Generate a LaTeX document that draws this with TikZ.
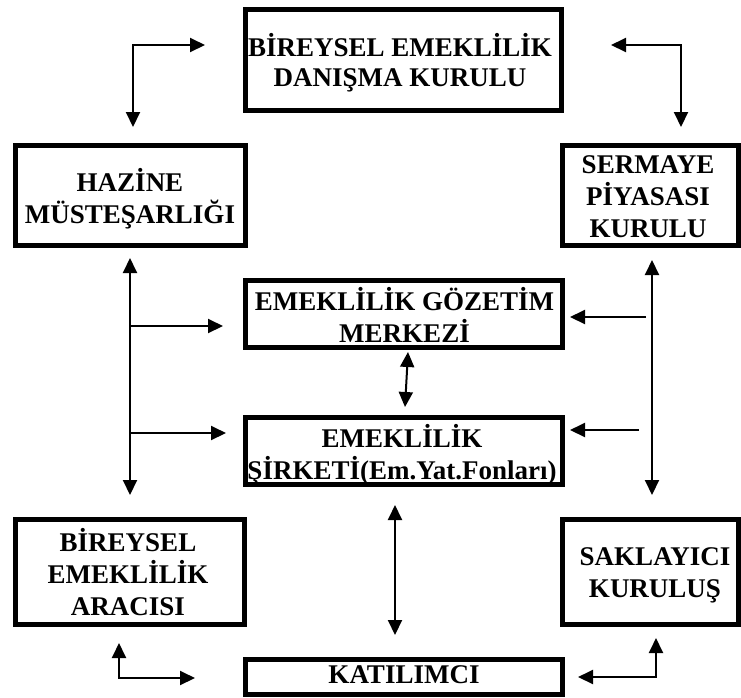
\documentclass[tikz,border=0pt]{standalone}
\usepackage{fontspec}
\setmainfont{Liberation Serif}
\usetikzlibrary{arrows.meta}
\tikzset{
  box/.style={draw, line width=5pt, inner sep=0pt},
  lbl/.style={align=center, inner sep=0pt, font=\bfseries\fontsize{27}{32}\selectfont},
  conn/.style={line width=2pt, {Triangle[width=14pt,length=15pt]}-{Triangle[width=14pt,length=15pt]}},
  conn1/.style={line width=2pt, -{Triangle[width=14pt,length=15pt]}}
}
\begin{document}
\begin{tikzpicture}[x=1pt,y=-1pt]
\useasboundingbox (0,0) rectangle (741,697);
% boxes
\node[box, minimum width=316pt, minimum height=101pt] (top) at (403.5,60) {};
\node[box, minimum width=230pt, minimum height=100pt] (haz) at (130.5,195.5) {};
\node[box, minimum width=176pt, minimum height=100pt] (spk) at (650.5,195.5) {};
\node[box, minimum width=317pt, minimum height=67pt] (egm) at (404,314) {};
\node[box, minimum width=317pt, minimum height=67pt] (sir) at (404,451) {};
\node[box, minimum width=229pt, minimum height=105pt] (ara) at (130,572) {};
\node[box, minimum width=176pt, minimum height=105pt] (sak) at (650.5,572) {};
\node[box, minimum width=317pt, minimum height=35pt] (kat) at (404,677) {};
% texts
\node[lbl, font=\bfseries\fontsize{27}{30}\selectfont] (ttop) at (400,62.5) {BİREYSEL EMEKLİLİK\\DANIŞMA KURULU};
\node[lbl] (thaz) at (130,199) {HAZİNE\\MÜSTEŞARLIĞI};
\node[lbl] (tspk) at (648,196.5) {SERMAYE\\PİYASASI\\KURULU};
\node[lbl] (tegm) at (404.5,314.5) {EMEKLİLİK GÖZETİM\\MERKEZİ};
\node[lbl] (tsir) at (402,454.5) {EMEKLİLİK\\ŞİRKETİ(Em.Yat.Fonları)};
\node[lbl] (tara) at (128,572.5) {BİREYSEL\\EMEKLİLİK\\ARACISI};
\node[lbl] (tsak) at (655,575) {SAKLAYICI\\KURULUŞ};
\node[lbl] (tkat) at (404,675) {KATILIMCI};
% connector points
\coordinate (a1) at (133,127); \coordinate (a1c) at (133,45); \coordinate (a1e) at (205,45);
\coordinate (a2) at (611,45); \coordinate (a2c) at (681,45); \coordinate (a2e) at (681,127);
\coordinate (lv1) at (130,258); \coordinate (lv2) at (130,495);
\coordinate (lb1) at (130,326); \coordinate (lb2) at (130,433);
\coordinate (rv1) at (652,260); \coordinate (rv2) at (652,495);
\coordinate (rb1) at (646,317); \coordinate (rb2) at (639,430);
\coordinate (m1) at (408,352); \coordinate (m2) at (405,407);
\coordinate (n1) at (395,505); \coordinate (n2) at (395,635);
\coordinate (b1) at (119,643); \coordinate (b1c) at (119,678); \coordinate (b1e) at (195,678);
\coordinate (b2) at (656,638); \coordinate (b2c) at (656,677); \coordinate (b2e) at (578,677);
% connectors
\draw[conn] (a1) -- (a1c) -- (a1e);
\draw[conn] (a2) -- (a2c) -- (a2e);
\draw[conn] (lv1) -- (lv2);
\draw[conn1] (lb1) -- (lb1 -| 223,0);
\draw[conn1] (lb2) -- (lb2 -| 226,0);
\draw[conn] (rv1) -- (rv2);
\draw[conn1] (rb1) -- (rb1 -| 570,0);
\draw[conn1] (rb2) -- (rb2 -| 570,0);
\draw[conn] (m1) -- (m2);
\draw[conn] (n1) -- (n2);
\draw[conn] (b1) -- (b1c) -- (b1e);
\draw[conn] (b2) -- (b2c) -- (b2e);
\end{tikzpicture}
\end{document}
